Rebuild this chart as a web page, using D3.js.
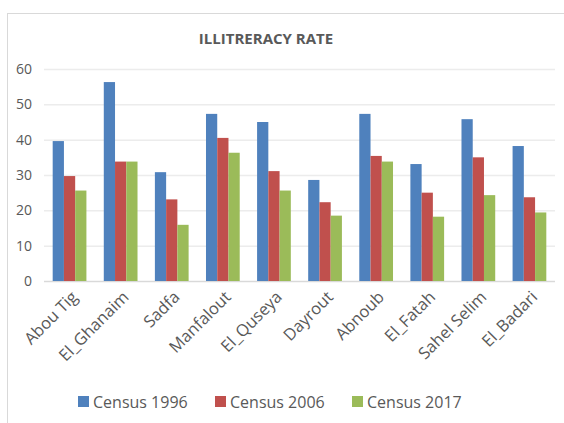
<!DOCTYPE html>
<html>
<head>
<meta charset="utf-8">
<script src="https://cdn.jsdelivr.net/npm/d3@7"></script>
<style>
  body { margin: 0; background: #fff; }
  text { font-family: "Open Sans", sans-serif; fill: #595959; }
</style>
</head>
<body>
<div class="infographic"></div>
<script>
var categories = ["Abou Tig", "El_Ghanaim", "Sadfa", "Manfalout", "El_Quseya", "Dayrout", "Abnoub", "El_Fatah", "Sahel Selim", "El_Badari"];
var census1996 = [39.6, 56.3, 30.8, 47.3, 45.0, 28.6, 47.3, 33.1, 45.8, 38.2];
var census2006 = [29.7, 33.8, 23.1, 40.5, 31.1, 22.3, 35.4, 25.0, 35.0, 23.7];
var census2017 = [25.6, 33.8, 15.9, 36.3, 25.6, 18.5, 33.8, 18.2, 24.3, 19.4];
var seriesNames = ["Census 1996", "Census 2006", "Census 2017"];
var yTicks = [0, 10, 20, 30, 40, 50, 60];

var width = 564, height = 423;
var margin = {top: 69, right: 9, bottom: 142, left: 44};

var color = d3.scaleOrdinal()
    .domain(seriesNames)
    .range(["#4f81bd", "#c0504d", "#9bbb59"]);

var svg = d3.select(".infographic")
            .append("svg")
            .attr("width", width)
            .attr("height", height);

// chart frame
svg.append("rect")
    .attr("x", 7.5).attr("y", 13.5)
    .attr("width", 600).attr("height", 500)
    .attr("fill", "none")
    .attr("stroke", "#d9d9d9")
    .attr("stroke-width", 1);

var x = d3.scaleBand()
    .domain(categories)
    .range([margin.left, width - margin.right])
    .paddingInner(0.34)
    .paddingOuter(0.17);

var xSub = d3.scaleBand()
    .domain(seriesNames)
    .range([0, x.bandwidth()]);

var y = d3.scaleLinear()
    .domain([0, 60])
    .range([height - margin.bottom, margin.top]);

// gridlines
svg.append("g")
    .attr("class", "grid")
  .selectAll("line")
    .data(yTicks)
  .enter().append("line")
    .attr("x1", margin.left)
    .attr("x2", width - margin.right)
    .attr("y1", function(d){ return y(d) + 0.5 })
    .attr("y2", function(d){ return y(d) + 0.5 })
    .style("stroke", function(d){ return d === 0 ? "#d9d9d9" : "#ececec" })
    .style("stroke-width", 1.5);

// y labels
svg.append("g")
    .attr("class", "y-labels")
  .selectAll("text")
    .data(yTicks)
  .enter().append("text")
    .attr("x", 32)
    .attr("y", function(d){ return y(d) })
    .attr("dy", "0.35em")
    .attr("text-anchor", "end")
    .style("font-size", "14px")
    .text(function(d){ return d });

var rows = categories.map(function(c, i){
  return {name: c, values: [census1996[i], census2006[i], census2017[i]]};
});

var groups = svg.append("g")
    .attr("class", "bars")
  .selectAll("g")
    .data(rows)
  .enter().append("g")
    .attr("transform", function(d){ return "translate(" + x(d.name) + ",0)" });

groups.selectAll("rect")
    .data(function(d){
      return d.values.map(function(v, j){ return {series: seriesNames[j], value: v} })
    })
  .enter().append("rect")
    .attr("x", function(d){ return xSub(d.series) })
    .attr("width", xSub.bandwidth())
    .attr("y", function(d){ return y(d.value) })
    .attr("height", function(d){ return y(0) - y(d.value) })
    .attr("fill", function(d){ return color(d.series) });

// x labels, rotated
svg.append("g")
    .attr("class", "x-labels")
  .selectAll("text")
    .data(categories)
  .enter().append("text")
    .attr("transform", function(d){
      return "translate(" + (x(d) + x.bandwidth() / 2 + 5) + "," + (y(0) + 13) + ") rotate(-45)";
    })
    .attr("text-anchor", "end")
    .attr("dy", "0.35em")
    .style("font-size", "16.5px")
    .text(function(d){ return d });

// title
svg.append("text")
    .attr("x", 266)
    .attr("y", 44)
    .attr("text-anchor", "middle")
    .style("font-size", "15px")
    .style("font-weight", "bold")
    .text("ILLITRERACY RATE");

// legend
var legend = svg.append("g")
    .attr("class", "legend")
  .selectAll("g")
    .data(seriesNames)
  .enter().append("g")
    .attr("transform", function(d, i){ return "translate(" + (78 + i * 137) + ",396)" });

legend.append("rect")
    .attr("width", 11)
    .attr("height", 11)
    .attr("fill", function(d){ return color(d) });

legend.append("text")
    .attr("x", 15)
    .attr("y", 6)
    .attr("dy", "0.35em")
    .style("font-size", "16px")
    .text(function(d){ return d });
</script>
</body>
</html>
